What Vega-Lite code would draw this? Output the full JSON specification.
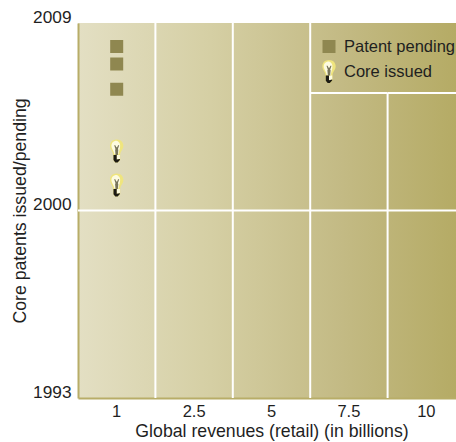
{
  "$schema": "https://vega.github.io/schema/vega-lite/v6.json",
  "width": 378,
  "height": 375,
  "autosize": {"type": "none"},
  "padding": {"left": 78, "top": 23, "right": 0, "bottom": 44},
  "background": "white",
  "view": {
    "stroke": null,
    "fill": {
      "gradient": "linear", "x1": 0, "y1": 0, "x2": 1, "y2": 0,
      "stops": [
        {"offset": 0, "color": "#e3dfc3"},
        {"offset": 0.35, "color": "#d5cfa4"},
        {"offset": 0.7, "color": "#c3ba84"},
        {"offset": 1, "color": "#b5ab65"}
      ]
    }
  },
  "datasets": {
    "patents": [
      {"revenue": "1", "year": 2007.87, "status": "Patent pending"},
      {"revenue": "1", "year": 2007.03, "status": "Patent pending"},
      {"revenue": "1", "year": 2005.82, "status": "Patent pending"},
      {"revenue": "1", "year": 2002.86, "status": "Core issued"},
      {"revenue": "1", "year": 2001.22, "status": "Core issued"}
    ],
    "verticals": [
      {"revenue": "1", "start": 1993, "end": 2009},
      {"revenue": "2.5", "start": 1993, "end": 2009},
      {"revenue": "5", "start": 1993, "end": 2009},
      {"revenue": "7.5", "start": 1993, "end": 2005.64}
    ],
    "dividers": [
      {"revenue": "1", "year": 2000},
      {"revenue": "2.5", "year": 2000},
      {"revenue": "5", "year": 2000},
      {"revenue": "7.5", "year": 2000},
      {"revenue": "10", "year": 2000},
      {"revenue": "7.5", "year": 2005.64},
      {"revenue": "10", "year": 2005.64}
    ]
  },
  "config": {
    "font": "Liberation Sans",
    "axis": {"titleFont": "Liberation Sans", "labelFont": "Liberation Sans"}
  },
  "resolve": {"scale": {"shape": "independent", "fill": "independent"}, "legend": {"shape": "independent", "fill": "independent"}},
  "encoding": {
    "x": {
      "field": "revenue", "type": "ordinal",
      "sort": ["1", "2.5", "5", "7.5", "10"],
      "scale": {"type": "band", "domain": ["1", "2.5", "5", "7.5", "10"], "range": [0, 387], "paddingInner": 0, "paddingOuter": 0},
      "axis": {
        "title": "Global revenues (retail) (in billions)",
        "titleFontSize": 17.7, "titleFontWeight": "normal", "titleColor": "#1f1f1f", "titlePadding": 3,
        "labelFontSize": 16.5, "labelFontWeight": "normal", "labelColor": "#1f1f1f", "labelAngle": 0, "labelPadding": 5,
        "ticks": false, "domainColor": "#b8ad68", "domainWidth": 2, "grid": false
      }
    }
  },
  "layer": [
    {
      "data": {"name": "verticals"},
      "mark": {"type": "rule", "color": "white", "strokeWidth": 2},
      "encoding": {
        "x": {
          "field": "revenue", "type": "ordinal", "bandPosition": 1,
          "sort": ["1", "2.5", "5", "7.5", "10"],
          "scale": {"type": "band", "domain": ["1", "2.5", "5", "7.5", "10"], "range": [0, 387], "paddingInner": 0, "paddingOuter": 0},
          "axis": {
            "title": "Global revenues (retail) (in billions)",
            "titleFontSize": 17.7, "titleFontWeight": "normal", "titleColor": "#1f1f1f", "titlePadding": 3,
            "labelFontSize": 16.5, "labelFontWeight": "normal", "labelColor": "#1f1f1f", "labelAngle": 0, "labelPadding": 5,
            "ticks": false, "domainColor": "#b8ad68", "domainWidth": 2, "grid": false
          }
        },
        "y": {
          "field": "start", "type": "quantitative",
          "scale": {"type": "linear", "domain": [1993, 2000, 2009], "range": [375, 187.5, 0], "nice": false, "zero": false},
          "axis": {
            "title": "Core patents issued/pending",
            "titleFontSize": 17.7, "titleFontWeight": "normal", "titleColor": "#1f1f1f", "titlePadding": 3,
            "values": [1993, 2000, 2009], "format": "d",
            "labelFontSize": 17.3, "labelColor": "#1f1f1f", "labelPadding": 7, "labelOffset": -6,
            "ticks": false, "domainColor": "#b8ad68", "domainWidth": 2, "grid": false
          }
        },
        "y2": {"field": "end"}
      }
    },
    {
      "data": {"name": "dividers"},
      "mark": {"type": "rect", "stroke": "white", "strokeWidth": 2, "fillOpacity": 0},
      "encoding": {
        "y": {"field": "year", "type": "quantitative", "scale": {"type": "linear", "domain": [1993, 2000, 2009], "range": [375, 187.5, 0], "nice": false, "zero": false}},
        "y2": {"field": "year"}
      }
    },
    {
      "data": {"name": "patents"},
      "mark": {"type": "point", "filled": true, "opacity": 1, "size": 529, "strokeWidth": 0},
      "encoding": {
        "y": {"field": "year", "type": "quantitative", "scale": {"type": "linear", "domain": [1993, 2000, 2009], "range": [375, 187.5, 0], "nice": false, "zero": false}},
        "shape": {
          "field": "status", "type": "nominal",
          "scale": {
            "domain": ["Patent pending", "Core issued"],
            "range": [
              "M-0.565,-0.565H0.565V0.565H-0.565ZM0,-1L0,1Z",
              "M0,-1C0.36,-1 0.58,-0.75 0.58,-0.45C0.58,-0.12 0.32,0 0.3,0.35L0.3,0.8L0.1,1L-0.15,1L-0.28,0.8L-0.3,0.35C-0.32,0 -0.58,-0.12 -0.58,-0.45C-0.58,-0.75 -0.36,-1 0,-1Z"
            ]
          },
          "legend": {
            "orient": "none", "legendX": 239.5, "legendY": 12, "title": null,
            "padding": 0, "rowPadding": 2, "symbolSize": 529, "labelOffset": 3.5,
            "labelFontSize": 16.5, "labelColor": "#1f1f1f", "labelFont": "Liberation Sans", "symbolStrokeWidth": 0
          }
        },
        "fill": {
          "field": "status", "type": "nominal",
          "scale": {"domain": ["Patent pending", "Core issued"], "range": ["#8f8750", "#efe57e"]},
          "legend": null
        }
      }
    },
    {
      "data": {"name": "patents"},
      "mark": {"type": "point", "filled": true, "opacity": 1, "size": 529, "fill": "#fdfbe0"},
      "encoding": {
        "y": {"field": "year", "type": "quantitative", "scale": {"type": "linear", "domain": [1993, 2000, 2009], "range": [375, 187.5, 0], "nice": false, "zero": false}},
        "shape": {
          "field": "status", "type": "nominal",
          "scale": {
            "domain": ["Patent pending", "Core issued"],
            "range": [
              "M0,-1L0,1Z",
              "M0,-1L0,1ZM-0.1,-0.88C-0.34,-0.84 -0.46,-0.65 -0.46,-0.45C-0.46,-0.2 -0.26,-0.05 -0.2,0.3L0.15,0.3C0.18,0.05 0.3,-0.2 0.3,-0.45C0.3,-0.7 0.12,-0.88 -0.1,-0.88ZM0,0.35L0.28,0.35L0.28,0.7L0,0.75Z"
            ]
          },
          "legend": {
            "orient": "none", "legendX": 239.5, "legendY": 12, "title": null,
            "padding": 0, "rowPadding": 2, "symbolSize": 529, "labelExpr": "''",
            "symbolStrokeWidth": 0, "symbolFillColor": "#fdfbe0"
          }
        }
      }
    },
    {
      "data": {"name": "patents"},
      "mark": {"type": "point", "filled": true, "opacity": 1, "size": 529, "fill": "#77745a"},
      "encoding": {
        "y": {"field": "year", "type": "quantitative", "scale": {"type": "linear", "domain": [1993, 2000, 2009], "range": [375, 187.5, 0], "nice": false, "zero": false}},
        "shape": {
          "field": "status", "type": "nominal",
          "scale": {
            "domain": ["Patent pending", "Core issued"],
            "range": [
              "M0,-1L0,1Z",
              "M0,-1L0,1ZM-0.22,-0.5L-0.12,-0.5L-0.04,-0.32L0.04,-0.32L0.12,-0.5L0.22,-0.5L0.1,-0.15L0.14,-0.1L0.1,0.35L-0.1,0.35L-0.14,-0.1L-0.1,-0.15Z"
            ]
          },
          "legend": {
            "orient": "none", "legendX": 239.5, "legendY": 12, "title": null,
            "padding": 0, "rowPadding": 2, "symbolSize": 529, "labelExpr": "''",
            "symbolStrokeWidth": 0, "symbolFillColor": "#77745a"
          }
        }
      }
    },
    {
      "data": {"name": "patents"},
      "mark": {"type": "point", "filled": true, "opacity": 1, "size": 529, "fill": "#1c1a14"},
      "encoding": {
        "y": {"field": "year", "type": "quantitative", "scale": {"type": "linear", "domain": [1993, 2000, 2009], "range": [375, 187.5, 0], "nice": false, "zero": false}},
        "shape": {
          "field": "status", "type": "nominal",
          "scale": {
            "domain": ["Patent pending", "Core issued"],
            "range": [
              "M0,-1L0,1Z",
              "M0,-1L0,1ZM-0.28,0.35L0,0.35L0,0.75L0.28,0.7L0.28,0.78L0.08,1L-0.12,1L-0.28,0.8Z"
            ]
          },
          "legend": {
            "orient": "none", "legendX": 239.5, "legendY": 12, "title": null,
            "padding": 0, "rowPadding": 2, "symbolSize": 529, "labelExpr": "''",
            "symbolStrokeWidth": 0, "symbolFillColor": "#1c1a14"
          }
        }
      }
    }
  ]
}
